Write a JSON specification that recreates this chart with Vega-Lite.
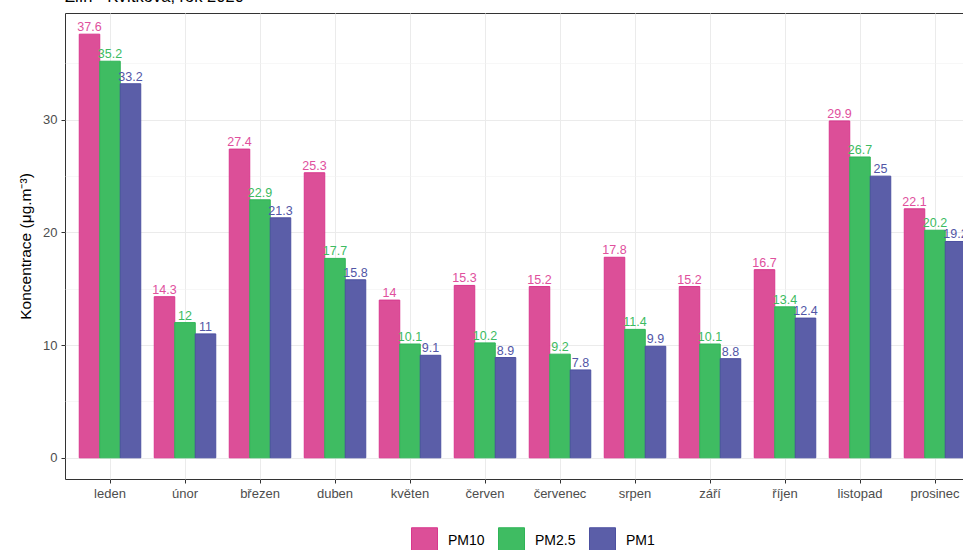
{
  "$schema": "https://vega.github.io/schema/vega-lite/v6.json",
  "width": 915,
  "height": 466,
  "autosize": {"type": "none"},
  "padding": {"left": 65, "top": 13, "right": 0, "bottom": 71},
  "background": "white",
  "title": {
    "text": "Zlín - Kvítková, rok 2020",
    "anchor": "start",
    "frame": "group",
    "offset": 0,
    "dy": 8,
    "baseline": "bottom",
    "font": "Liberation Sans",
    "fontSize": 16.5,
    "fontWeight": "normal",
    "color": "black"
  },
  "config": {
    "view": {"stroke": "#333333", "strokeWidth": 1},
    "font": "Liberation Sans"
  },
  "data": {
    "values": [
      {"month": "leden", "type": "PM10", "value": 37.6},
      {"month": "leden", "type": "PM2.5", "value": 35.2},
      {"month": "leden", "type": "PM1", "value": 33.2},
      {"month": "únor", "type": "PM10", "value": 14.3},
      {"month": "únor", "type": "PM2.5", "value": 12},
      {"month": "únor", "type": "PM1", "value": 11},
      {"month": "březen", "type": "PM10", "value": 27.4},
      {"month": "březen", "type": "PM2.5", "value": 22.9},
      {"month": "březen", "type": "PM1", "value": 21.3},
      {"month": "duben", "type": "PM10", "value": 25.3},
      {"month": "duben", "type": "PM2.5", "value": 17.7},
      {"month": "duben", "type": "PM1", "value": 15.8},
      {"month": "květen", "type": "PM10", "value": 14},
      {"month": "květen", "type": "PM2.5", "value": 10.1},
      {"month": "květen", "type": "PM1", "value": 9.1},
      {"month": "červen", "type": "PM10", "value": 15.3},
      {"month": "červen", "type": "PM2.5", "value": 10.2},
      {"month": "červen", "type": "PM1", "value": 8.9},
      {"month": "červenec", "type": "PM10", "value": 15.2},
      {"month": "červenec", "type": "PM2.5", "value": 9.2},
      {"month": "červenec", "type": "PM1", "value": 7.8},
      {"month": "srpen", "type": "PM10", "value": 17.8},
      {"month": "srpen", "type": "PM2.5", "value": 11.4},
      {"month": "srpen", "type": "PM1", "value": 9.9},
      {"month": "září", "type": "PM10", "value": 15.2},
      {"month": "září", "type": "PM2.5", "value": 10.1},
      {"month": "září", "type": "PM1", "value": 8.8},
      {"month": "říjen", "type": "PM10", "value": 16.7},
      {"month": "říjen", "type": "PM2.5", "value": 13.4},
      {"month": "říjen", "type": "PM1", "value": 12.4},
      {"month": "listopad", "type": "PM10", "value": 29.9},
      {"month": "listopad", "type": "PM2.5", "value": 26.7},
      {"month": "listopad", "type": "PM1", "value": 25},
      {"month": "prosinec", "type": "PM10", "value": 22.1},
      {"month": "prosinec", "type": "PM2.5", "value": 20.2},
      {"month": "prosinec", "type": "PM1", "value": 19.2}
    ]
  },
  "encoding": {
    "x": {
      "field": "month",
      "type": "nominal",
      "sort": ["leden", "únor", "březen", "duben", "květen", "červen", "červenec", "srpen", "září", "říjen", "listopad", "prosinec"],
      "scale": {"paddingInner": 0.18, "paddingOuter": 0.19},
      "axis": {
        "title": null,
        "labelAngle": 0,
        "labelColor": "#4D4D4D",
        "labelFontSize": 13,
        "labelPadding": 4,
        "tickSize": 4,
        "tickColor": "#333333",
        "domain": false,
        "grid": true,
        "gridColor": "#EBEBEB",
        "gridWidth": 1,
        "bandPosition": 0.5
      }
    },
    "xOffset": {"field": "type", "type": "nominal", "sort": ["PM10", "PM2.5", "PM1"]},
    "y": {
      "field": "value",
      "type": "quantitative",
      "scale": {"domain": [-1.88, 39.48], "nice": false, "zero": false},
      "axis": {
        "title": "Koncentrace (μg.m⁻³)",
        "titleFontSize": 15.5,
        "titleFontWeight": "normal",
        "titleColor": "black",
        "titlePadding": 9,
        "values": [0, 5, 10, 15, 20, 25, 30, 35],
        "labelExpr": "datum.value % 10 === 0 ? datum.label : ''",
        "labelColor": "#4D4D4D",
        "labelFontSize": 13,
        "labelPadding": 4,
        "tickSize": 4,
        "tickColor": "#333333",
        "tickOpacity": {"condition": {"test": "datum.value % 10 === 0", "value": 1}, "value": 0},
        "domain": false,
        "grid": true,
        "gridColor": {"condition": {"test": "datum.value % 10 === 0", "value": "#EBEBEB"}, "value": "#F2F2F2"},
        "gridWidth": {"condition": {"test": "datum.value % 10 === 0", "value": 1}, "value": 0.6}
      }
    }
  },
  "layer": [
    {
      "mark": {"type": "bar", "strokeWidth": 1},
      "encoding": {
        "y2": {"datum": 0},
        "fill": {
          "field": "type",
          "type": "nominal",
          "sort": ["PM10", "PM2.5", "PM1"],
          "scale": {"domain": ["PM10", "PM2.5", "PM1"], "range": ["#DC4F98", "#3FBC62", "#5B5EA8"]},
          "legend": {
            "title": null,
            "orient": "none",
            "legendX": 346,
            "legendY": 514,
            "direction": "horizontal",
            "symbolType": "square",
            "symbolSize": 676,
            "symbolStrokeWidth": 1,
            "symbolOpacity": 1,
            "labelFontSize": 14,
            "labelColor": "black",
            "labelOffset": 10,
            "columnPadding": 11
          }
        },
        "stroke": {
          "field": "type",
          "type": "nominal",
          "sort": ["PM10", "PM2.5", "PM1"],
          "scale": {"domain": ["PM10", "PM2.5", "PM1"], "range": ["#D8378D", "#2FB457", "#4C50A0"]},
          "legend": {
            "title": null,
            "orient": "none",
            "legendX": 346,
            "legendY": 514,
            "direction": "horizontal",
            "symbolType": "square",
            "symbolSize": 676,
            "labelFontSize": 14,
            "labelColor": "black",
            "labelOffset": 10,
            "columnPadding": 11
          }
        }
      }
    },
    {
      "mark": {"type": "text", "baseline": "alphabetic", "dy": -3, "fontSize": 12.5, "font": "Liberation Sans"},
      "encoding": {
        "text": {"field": "value", "type": "quantitative"},
        "color": {
          "field": "type",
          "type": "nominal",
          "scale": {"domain": ["PM10", "PM2.5", "PM1"], "range": ["#E0509D", "#3CBB61", "#5256A6"]},
          "legend": null
        }
      }
    }
  ]
}
